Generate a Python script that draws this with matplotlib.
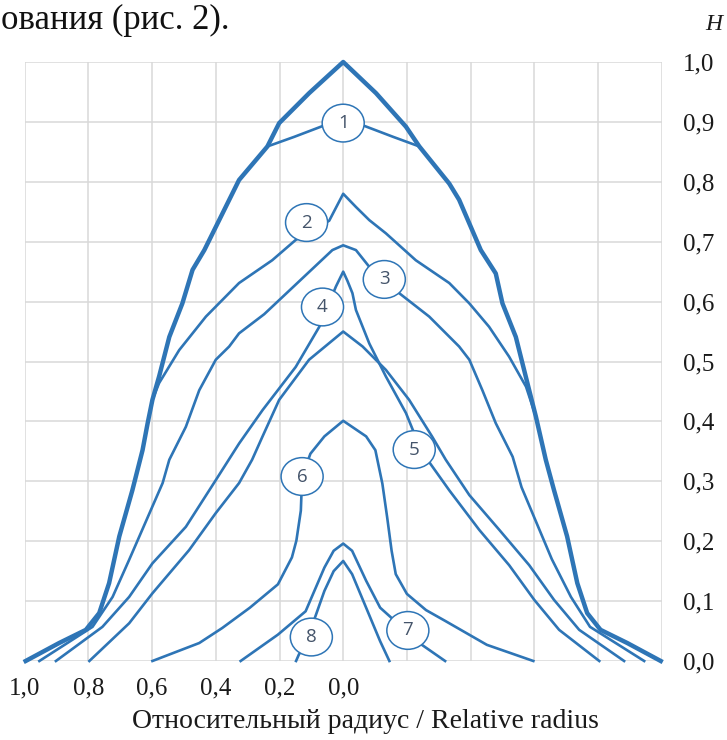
import matplotlib.pyplot as plt
from matplotlib.patches import Ellipse

# relative radius (left side positive, right side negative) and height H
r1 = [0.997, 0.892, 0.808, 0.766, 0.735, 0.703, 0.662, 0.630, 0.614, 0.599, 0.578, 0.546, 0.505, 0.473,
      0.436, 0.327, 0.238, 0.201, 0.107, 0.0, -0.103, -0.197, -0.239, -0.333, -0.364, -0.432, -0.479,
      -0.500, -0.542, -0.584, -0.605, -0.636, -0.662, -0.703, -0.735, -0.766, -0.808, -0.892, -0.997]
h1 = [0.0, 0.030, 0.052, 0.080, 0.130, 0.208, 0.285, 0.352, 0.397, 0.436, 0.475, 0.541, 0.597, 0.653,
      0.686, 0.803, 0.859, 0.898, 0.948, 1.0, 0.948, 0.892, 0.859, 0.797, 0.770, 0.686, 0.647,
      0.597, 0.541, 0.452, 0.408, 0.336, 0.285, 0.208, 0.130, 0.080, 0.052, 0.030, 0.0]

# inner branch of curve 1 running through its label
r1b = [0.238, 0.154, 0.065, 0.0, -0.068, -0.157, -0.239]
h1b = [0.859, 0.875, 0.893, 0.898, 0.893, 0.875, 0.859]

r2 = [0.997, 0.892, 0.808, 0.766, 0.735, 0.703, 0.662, 0.630, 0.614, 0.599, 0.578, 0.515, 0.431, 0.327,
      0.223, 0.149, 0.044, 0.0, -0.040, -0.082, -0.134, -0.228, -0.333, -0.396, -0.458, -0.521, -0.574,
      -0.605, -0.636, -0.662, -0.703, -0.735, -0.766, -0.808, -0.892, -0.997]
h2 = [0.0, 0.030, 0.052, 0.080, 0.130, 0.208, 0.285, 0.352, 0.397, 0.436, 0.464, 0.519, 0.575, 0.631,
      0.669, 0.703, 0.735, 0.780, 0.758, 0.736, 0.714, 0.669, 0.631, 0.597, 0.558, 0.508, 0.458,
      0.408, 0.336, 0.285, 0.208, 0.130, 0.080, 0.052, 0.030, 0.0]

r3 = [0.954, 0.787, 0.724, 0.672, 0.567, 0.546, 0.494, 0.452, 0.400, 0.358, 0.327, 0.248, 0.138, 0.034,
      0.0, -0.040, -0.082, -0.129, -0.176, -0.270, -0.364, -0.396, -0.437, -0.479, -0.532, -0.560,
      -0.655, -0.715, -0.775, -0.945]
h3 = [0.0, 0.057, 0.107, 0.169, 0.297, 0.336, 0.391, 0.452, 0.503, 0.525, 0.547, 0.579, 0.634, 0.686,
      0.694, 0.686, 0.658, 0.637, 0.614, 0.575, 0.525, 0.503, 0.452, 0.397, 0.341, 0.290,
      0.170, 0.107, 0.057, 0.0]

r4 = [0.902, 0.756, 0.672, 0.599, 0.494, 0.400, 0.327, 0.253, 0.149, 0.075, 0.023, 0.0, -0.013,
      -0.029, -0.040, -0.082, -0.134, -0.197, -0.223, -0.254, -0.333, -0.427, -0.521, -0.600, -0.678,
      -0.804]
h4 = [0.0, 0.057, 0.107, 0.163, 0.224, 0.302, 0.363, 0.419, 0.491, 0.558, 0.625, 0.650, 0.635,
      0.614, 0.586, 0.530, 0.475, 0.414, 0.380, 0.344, 0.285, 0.219, 0.160, 0.102, 0.052,
      0.0]

r5 = [0.797, 0.672, 0.599, 0.484, 0.400, 0.327, 0.286, 0.254, 0.201, 0.107, 0.0, -0.061, -0.134,
      -0.207, -0.280, -0.322, -0.396, -0.490, -0.584, -0.662, -0.741, -0.882]
h5 = [0.0, 0.063, 0.113, 0.185, 0.247, 0.297, 0.336, 0.374, 0.436, 0.503, 0.550, 0.525, 0.486,
      0.436, 0.374, 0.336, 0.277, 0.219, 0.160, 0.102, 0.052, 0.0]

r6 = [0.599, 0.452, 0.380, 0.293, 0.205, 0.161, 0.147, 0.133, 0.129, 0.103, 0.059, 0.0, -0.072,
      -0.101, -0.123, -0.138, -0.152, -0.165, -0.200, -0.260, -0.320, -0.451, -0.597]
h6 = [0.0, 0.030, 0.055, 0.089, 0.128, 0.173, 0.201, 0.251, 0.308, 0.346, 0.375, 0.401, 0.375,
      0.352, 0.296, 0.240, 0.184, 0.145, 0.112, 0.085, 0.067, 0.027, 0.0]

r7 = [0.322, 0.205, 0.118, 0.059, 0.030, 0.0, -0.028, -0.072, -0.116, -0.160, -0.203, -0.247, -0.320]
h7 = [0.0, 0.044, 0.083, 0.156, 0.184, 0.196, 0.184, 0.134, 0.089, 0.068, 0.051, 0.027, 0.0]

r8 = [0.148, 0.139, 0.100, 0.089, 0.059, 0.030, 0.0, -0.028, -0.072, -0.116, -0.145]
h8 = [0.0, 0.011, 0.040, 0.072, 0.117, 0.150, 0.167, 0.145, 0.089, 0.033, 0.0]

curve_labels = ['1', '2', '3', '4', '5', '6', '7', '8']
label_r = [0.0, 0.115, -0.129, 0.065, -0.223, 0.129, -0.203, 0.100]
label_h = [0.898, 0.732, 0.637, 0.591, 0.353, 0.308, 0.051, 0.040]

x_ticks = [1.0, 0.8, 0.6, 0.4, 0.2, 0.0, -0.2, -0.4, -0.6, -0.8, -1.0]
x_tick_labels = ['1,0', '0,8', '0,6', '0,4', '0,2', '0,0', '', '', '', '', '']
y_ticks = [0.0, 0.1, 0.2, 0.3, 0.4, 0.5, 0.6, 0.7, 0.8, 0.9, 1.0]
y_tick_labels = ['0,0', '0,1', '0,2', '0,3', '0,4', '0,5', '0,6', '0,7', '0,8', '0,9', '1,0']

BLUE = '#2e75b6'
SERIF = 'Liberation Serif'

fig = plt.figure(figsize=(7.27, 7.40), dpi=100)
ax = fig.add_axes([24.7 / 727, 79 / 740, 637 / 727, 599 / 740])
ax.set_xlim(1, -1)
ax.set_ylim(0, 1)

ax.set_xticks(x_ticks)
ax.set_xticklabels(x_tick_labels, fontfamily=SERIF, fontsize=18, color='#1a1a1a')
ax.set_yticks(y_ticks)
ax.set_yticklabels(y_tick_labels, fontfamily=SERIF, fontsize=18, color='#1a1a1a', ha='left')
ax.yaxis.tick_right()
ax.tick_params(axis='x', length=0, pad=12)
ax.tick_params(axis='y', length=0, pad=15)
for s in ax.spines.values():
    s.set_visible(False)
ax.grid(True, color='#d9d9d9', lw=1.1)
ax.set_axisbelow(True)

thin = 1.9
ax.plot(r1, h1, color=BLUE, lw=3.2, clip_on=False, solid_joinstyle='round', zorder=3)
ax.plot(r1b, h1b, color=BLUE, lw=thin, zorder=2)
for r, h in [(r2, h2), (r3, h3), (r4, h4), (r5, h5), (r6, h6), (r7, h7), (r8, h8)]:
    ax.plot(r, h, color=BLUE, lw=thin, clip_on=False, solid_joinstyle='round', zorder=2)

for lab, lr, lh in zip(curve_labels, label_r, label_h):
    ax.add_patch(Ellipse((lr, lh), 0.132, 0.063, facecolor='white', edgecolor=BLUE,
                         lw=1.1, zorder=5))
    ax.text(lr, lh, lab, ha='center', va='center', fontsize=13.5, color='#44546a',
            fontfamily='Open Sans', zorder=6)

fig.text(0.001, 1 - 29 / 740, 'ования (рис. 2).', fontfamily=SERIF, fontsize=25,
         ha='left', va='baseline', color='#111111')
fig.text(714 / 727, 1 - 25 / 740, 'H', fontfamily=SERIF, fontstyle='italic', fontsize=17,
         ha='center', va='center', color='#1a1a1a')
fig.text(365 / 727, 1 - 721 / 740, 'Относительный радиус / Relative radius', fontfamily=SERIF,
         fontsize=20, ha='center', va='center', color='#1a1a1a')

fig.savefig('out.png', dpi=100)
